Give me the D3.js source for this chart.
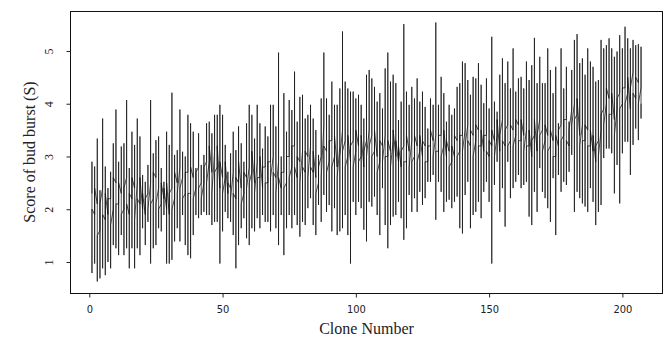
<!DOCTYPE html>
<html>
<head>
<meta charset="utf-8">
<script src="https://cdn.jsdelivr.net/npm/d3@7"></script>
<style>
  body { margin: 0; background: #fff; }
  svg { display: block; }
</style>
</head>
<body>
<div id="chart"></div>
<script>
// per clone: highest score, lowest score, first and last recorded score
const cloneHigh = [
  2.90, 2.81, 3.34, 2.36, 3.72, 2.81, 2.40, 2.71, 3.25, 3.89,
  2.90, 3.19, 3.25, 4.07, 2.78, 3.47, 3.22, 3.72, 3.38, 2.65,
  2.52, 2.84, 4.07, 3.06, 3.31, 3.38, 2.78, 2.52, 3.47, 3.22,
  4.21, 3.03, 3.12, 3.89, 3.09, 3.00, 3.79, 3.63, 3.47, 2.78,
  3.44, 2.84, 3.03, 3.63, 3.66, 3.44, 3.79, 3.79, 3.98, 3.79,
  3.22, 2.71, 3.06, 3.47, 3.12, 3.57, 3.25, 2.90, 3.63, 3.98,
  3.79, 3.34, 3.98, 3.63, 3.15, 3.57, 3.38, 3.98, 3.98, 3.57,
  4.97, 3.00, 4.20, 3.47, 4.07, 3.88, 4.61, 3.66, 4.13, 4.17,
  3.72, 3.79, 3.98, 3.72, 3.50, 3.03, 4.10, 4.97, 4.10, 3.79,
  4.42, 3.98, 3.98, 4.29, 5.37, 4.42, 4.29, 4.23, 4.23, 4.10,
  4.17, 3.98, 3.72, 4.55, 4.64, 4.48, 4.32, 4.04, 4.20, 3.91,
  4.67, 4.97, 4.42, 4.55, 4.39, 3.69, 4.04, 5.51, 4.23, 3.98,
  4.32, 4.10, 4.48, 4.04, 4.23, 3.94, 3.53, 4.10, 3.98, 5.54,
  3.98, 4.51, 4.20, 3.66, 3.98, 3.79, 3.91, 4.32, 4.39, 4.80,
  4.77, 4.45, 4.17, 4.51, 4.48, 4.77, 4.36, 4.01, 4.48, 3.91,
  5.27, 4.04, 3.85, 4.55, 4.86, 4.39, 4.80, 4.29, 5.05, 4.23,
  4.48, 4.51, 4.29, 4.80, 4.45, 4.73, 5.25, 4.39, 4.89, 4.39,
  4.39, 5.05, 4.64, 4.20, 4.70, 3.63, 5.05, 4.29, 4.70, 3.66,
  4.64, 5.21, 5.32, 4.77, 4.86, 4.55, 5.05, 4.80, 4.70, 4.42,
  4.45, 5.21, 5.05, 5.11, 5.24, 5.05, 4.89, 4.99, 5.30, 5.05,
  5.46, 5.24, 5.05, 5.21, 5.11, 5.13, 5.08
];
const cloneLow = [
  0.79, 0.97, 0.63, 0.69, 0.88, 0.75, 1.00, 0.88, 1.32, 1.26,
  1.13, 1.51, 1.13, 1.26, 0.88, 1.26, 0.88, 1.26, 1.13, 1.64,
  1.32, 1.76, 0.97, 1.26, 1.32, 1.64, 1.58, 1.89, 0.97, 0.97,
  1.04, 1.39, 1.64, 1.39, 1.89, 1.32, 1.13, 1.07, 1.51, 1.89,
  1.83, 1.89, 1.95, 1.89, 1.89, 1.70, 1.76, 1.76, 0.97, 1.58,
  1.95, 1.83, 1.76, 1.51, 0.88, 1.32, 1.64, 1.83, 1.45, 1.32,
  1.64, 1.58, 1.83, 1.64, 1.89, 1.76, 1.76, 1.58, 1.89, 1.64,
  1.32, 1.89, 1.13, 1.64, 1.89, 1.64, 1.89, 1.70, 1.48, 1.76,
  1.70, 2.02, 2.21, 1.70, 1.51, 2.08, 1.76, 2.27, 1.95, 2.08,
  1.58, 2.02, 1.51, 1.58, 1.64, 1.89, 1.51, 0.97, 2.14, 1.89,
  2.14, 2.02, 1.61, 1.39, 2.14, 2.05, 2.24, 1.89, 1.51, 2.40,
  1.70, 1.26, 1.70, 1.86, 1.89, 2.14, 1.83, 1.42, 1.64, 2.27,
  1.95, 2.21, 1.95, 2.33, 2.08, 2.21, 2.52, 2.52, 2.65, 1.80,
  2.52, 2.33, 1.95, 2.14, 2.18, 2.02, 2.14, 2.24, 1.64, 1.54,
  2.27, 2.52, 1.64, 1.89, 1.95, 2.14, 1.83, 2.33, 2.52, 2.14,
  0.97, 2.46, 2.90, 1.95, 2.40, 1.67, 2.90, 2.21, 2.40, 2.52,
  2.65, 2.40, 2.46, 2.52, 1.86, 1.70, 2.33, 1.95, 2.78, 2.33,
  2.21, 2.02, 1.76, 2.59, 1.51, 2.65, 2.33, 2.52, 2.46, 2.71,
  3.03, 1.95, 2.33, 2.21, 2.11, 2.05, 1.95, 2.40, 2.14, 1.70,
  1.95, 2.08, 2.97, 3.15, 3.15, 3.06, 2.30, 2.84, 2.11, 3.06,
  3.28, 3.28, 2.65, 3.22, 3.53, 3.31, 3.72
];
const cloneFirst = [
  2.3, 1.9, 2.1, 1.6, 2.4, 1.8, 1.9, 2.2, 2.0, 2.5,
  2.1, 2.3, 2.0, 2.6, 1.9, 2.2, 2.4, 2.5, 2.1, 2.0,
  1.9, 2.3, 2.5, 2.2, 2.6, 2.4, 2.1, 2.2, 2.0, 1.9,
  2.4, 2.2, 2.5, 2.8, 2.6, 2.3, 2.7, 2.3, 2.6, 2.4,
  2.8, 2.5, 2.5, 2.9, 2.9, 2.7, 3.1, 2.8, 2.4, 2.6,
  2.6, 2.3, 2.4, 2.7, 2.2, 2.5, 2.4, 2.3, 2.6, 2.8,
  2.7, 2.5, 2.9, 2.6, 2.4, 2.8, 2.5, 2.9, 3.0, 2.6,
  2.9, 2.4, 2.7, 2.5, 3.0, 2.8, 3.2, 2.6, 2.9, 3.1,
  2.7, 3.0, 3.2, 2.7, 2.6, 2.5, 3.0, 3.6, 3.1, 2.9,
  3.3, 3.0, 2.8, 3.2, 3.5, 3.3, 3.0, 2.9, 3.3, 3.1,
  3.2, 3.0, 2.8, 3.3, 3.5, 3.4, 3.1, 3.0, 2.9, 3.2,
  3.4, 3.0, 3.1, 3.3, 3.0, 2.9, 2.8, 3.2, 2.9, 3.1,
  3.3, 3.0, 3.2, 3.1, 3.0, 3.2, 2.9, 3.2, 3.3, 3.4,
  3.1, 3.4, 3.2, 3.0, 3.1, 2.9, 3.0, 3.3, 3.1, 3.4,
  3.5, 3.6, 3.2, 3.4, 3.3, 3.5, 3.2, 3.1, 3.4, 3.0,
  3.2, 3.3, 3.4, 3.1, 3.7, 3.2, 3.6, 3.3, 3.5, 3.4,
  3.6, 3.3, 3.4, 3.5, 3.2, 3.0, 3.4, 3.1, 3.7, 3.5,
  3.3, 3.4, 3.2, 3.3, 3.0, 3.2, 3.6, 3.4, 3.7, 3.2,
  3.9, 4.0, 3.8, 3.4, 3.6, 3.3, 3.5, 3.2, 3.1, 2.9,
  3.3, 3.5, 3.9, 4.0, 4.1, 3.8, 3.7, 3.9, 4.2, 4.0,
  4.3, 4.2, 3.9, 4.6, 4.1, 4.4, 4.3
];
const cloneLast = [
  2.0, 2.4, 1.5, 2.1, 1.9, 2.3, 2.2, 1.7, 2.6, 2.1,
  2.5, 1.9, 2.4, 2.1, 2.3, 2.6, 1.8, 2.2, 2.6, 2.3,
  2.2, 2.0, 2.1, 2.7, 2.1, 2.0, 2.5, 2.4, 2.5, 2.3,
  2.0, 2.7, 2.3, 2.4, 2.2, 2.7, 2.3, 2.8, 2.2, 2.7,
  2.4, 2.2, 2.8, 2.5, 3.2, 2.3, 2.7, 3.2, 2.9, 2.3,
  2.9, 2.5, 2.2, 2.3, 2.6, 2.9, 2.1, 2.7, 2.4, 2.5,
  3.1, 2.3, 2.6, 3.0, 2.8, 2.5, 2.9, 2.6, 2.7, 2.3,
  2.6, 2.7, 2.4, 3.0, 2.6, 3.2, 2.8, 3.0, 2.5, 2.8,
  3.1, 2.6, 2.8, 3.1, 2.3, 2.8, 2.6, 3.2, 2.7, 3.3,
  2.8, 3.4, 2.6, 3.0, 3.1, 2.8, 3.4, 3.2, 2.8, 3.5,
  2.9, 3.4, 3.1, 3.0, 3.2, 3.0, 3.5, 2.7, 3.3, 2.9,
  3.0, 3.3, 2.8, 3.5, 3.3, 3.2, 3.1, 2.9, 3.4, 2.8,
  2.9, 3.4, 2.9, 3.4, 3.3, 2.9, 3.2, 3.5, 3.0, 3.1,
  3.4, 3.0, 3.5, 3.3, 2.8, 3.2, 3.4, 3.0, 3.4, 3.1,
  3.2, 3.3, 3.5, 3.0, 3.6, 3.2, 3.5, 3.4, 3.1, 3.3,
  3.5, 3.0, 3.7, 3.4, 3.3, 3.5, 3.2, 3.6, 3.2, 3.7,
  3.3, 3.7, 3.1, 3.2, 3.5, 3.3, 3.7, 3.4, 3.4, 3.1,
  3.6, 3.1, 3.5, 3.0, 3.4, 3.5, 3.3, 3.7, 3.3, 3.5,
  3.6, 3.7, 4.1, 3.2, 3.3, 3.6, 3.2, 3.5, 3.4, 3.2,
  3.0, 3.8, 3.6, 4.3, 3.8, 4.2, 3.4, 4.1, 3.9, 4.3,
  4.0, 4.5, 4.3, 4.2, 4.5, 4.0, 4.0
];
const xTicks = [0, 50, 100, 150, 200];
const yTicks = [1, 2, 3, 4, 5];
const xTitle = "Clone Number";
const yTitle = "Score of bud burst (S)";

const width = 665, height = 339;
const plot = { left: 70, right: 663, top: 11, bottom: 293 };

const svg = d3.select("#chart")
  .append("svg")
  .attr("width", width)
  .attr("height", height);

const x = d3.scaleLinear()
  .domain([-7.24, 215.24])
  .range([plot.left, plot.right]);

const y = d3.scaleLinear()
  .domain([0.412, 5.758])
  .range([plot.bottom, plot.top]);

// each clone: first score, up to max, down to min, then last score
const points = cloneFirst.flatMap((f, i) => {
  const c = i + 1;
  return [[c, f], [c, cloneHigh[i]], [c, cloneLow[i]], [c, cloneLast[i]]];
});

svg.append("path")
  .datum(points)
  .attr("fill", "none")
  .attr("stroke", "#111")
  .attr("stroke-width", 0.75)
  .attr("d", d3.line()
    .x(d => x(d[0]))
    .y(d => y(d[1]))
  );

// box
svg.append("rect")
  .attr("x", plot.left + 0.5)
  .attr("y", plot.top + 0.5)
  .attr("width", plot.right - plot.left - 1)
  .attr("height", plot.bottom - plot.top)
  .attr("fill", "none")
  .attr("stroke", "#111")
  .attr("stroke-width", 1);

// x axis
const xAxis = svg.append("g")
  .attr("transform", "translate(0," + (plot.bottom + 0.5) + ")")
  .call(d3.axisBottom(x).tickValues(xTicks).tickSize(4).tickSizeOuter(0));
xAxis.select(".domain").remove();
xAxis.selectAll("line").attr("stroke", "#222");
xAxis.selectAll("text")
  .attr("y", 12)
  .attr("dy", "0.71em")
  .attr("fill", "#222")
  .style("font-family", "'DejaVu Sans', sans-serif")
  .style("font-stretch", "condensed")
  .style("font-size", "11px");

// y axis, labels parallel to the axis
const yAxis = svg.append("g")
  .attr("transform", "translate(" + (plot.left + 0.5) + ",0)")
  .call(d3.axisLeft(y).tickValues(yTicks).tickFormat(d3.format("d")).tickSize(4).tickSizeOuter(0));
yAxis.select(".domain").remove();
yAxis.selectAll("line").attr("stroke", "#222");
yAxis.selectAll("text")
  .attr("x", null)
  .attr("dy", null)
  .attr("transform", "translate(-22,0) rotate(-90)")
  .attr("text-anchor", "middle")
  .attr("dominant-baseline", "central")
  .attr("fill", "#222")
  .style("font-family", "'Liberation Serif', serif")
  .style("font-size", "12px");

svg.append("text")
  .attr("x", (plot.left + plot.right) / 2)
  .attr("y", 334)
  .attr("text-anchor", "middle")
  .attr("fill", "#222")
  .style("font-family", "'Liberation Serif', serif")
  .style("font-size", "16px")
  .text(xTitle);

svg.append("text")
  .attr("transform", "translate(29," + (plot.top + plot.bottom) / 2 + ") rotate(-90)")
  .attr("text-anchor", "middle")
  .attr("dominant-baseline", "central")
  .attr("fill", "#222")
  .style("font-family", "'Liberation Serif', serif")
  .style("font-size", "16px")
  .text(yTitle);
</script>
</body>
</html>
